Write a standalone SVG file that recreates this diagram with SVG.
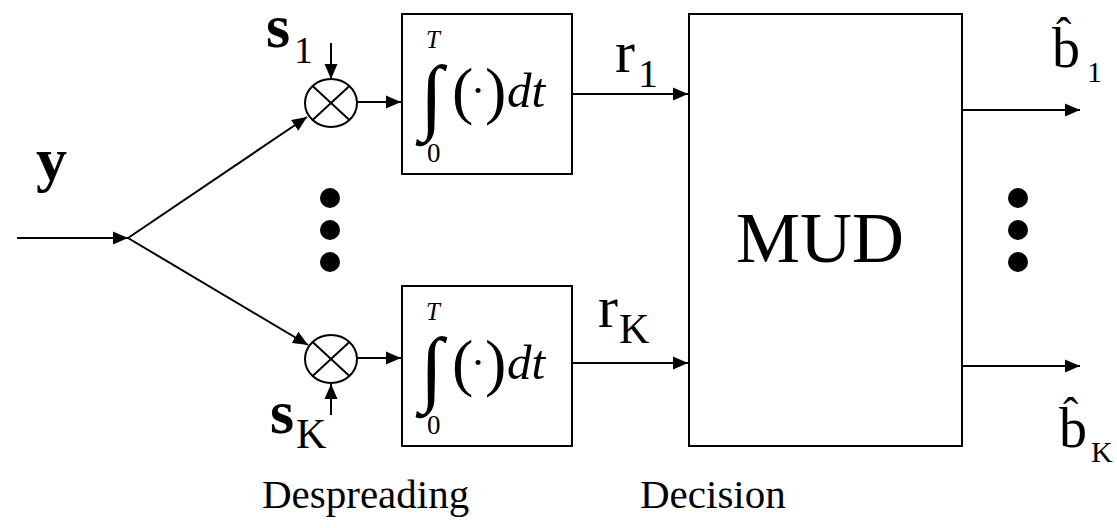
<svg xmlns="http://www.w3.org/2000/svg" width="1117" height="528" viewBox="0 0 1117 528">
<style>
text{font-family:"Liberation Serif","Times New Roman",serif;fill:#000}
.bold{font-weight:bold}
.it{font-style:italic}
.ln{stroke:#000;stroke-width:2;fill:none}
.box{stroke:#000;stroke-width:2;fill:#fff}
</style>
<defs>
<marker id="ah" markerUnits="userSpaceOnUse" markerWidth="16" markerHeight="14" refX="15" refY="7" orient="auto">
<path d="M0,0.5 L15,7 L0,13.5 z" fill="#000"/>
</marker>
</defs>
<g id="connectors">
<line class="ln" x1="17" y1="238" x2="128" y2="238" marker-end="url(#ah)"/>
<line class="ln" x1="128" y1="238" x2="307" y2="117" marker-end="url(#ah)"/>
<line class="ln" x1="128" y1="238" x2="308" y2="345" marker-end="url(#ah)"/>
<line class="ln" x1="331" y1="43" x2="331" y2="79" marker-end="url(#ah)"/>
<line class="ln" x1="331" y1="415" x2="331" y2="384" marker-end="url(#ah)"/>
<line class="ln" x1="357" y1="102" x2="401" y2="102" marker-end="url(#ah)"/>
<line class="ln" x1="357" y1="358" x2="401" y2="358" marker-end="url(#ah)"/>
<line class="ln" x1="572" y1="94" x2="688" y2="94" marker-end="url(#ah)"/>
<line class="ln" x1="572" y1="363" x2="688" y2="363" marker-end="url(#ah)"/>
<line class="ln" x1="962" y1="110" x2="1080" y2="110" marker-end="url(#ah)"/>
<line class="ln" x1="962" y1="366" x2="1080" y2="366" marker-end="url(#ah)"/>
</g>
<g id="input-label"><text class="bold" x="36" y="180" font-size="62">y</text></g>
<g id="mult1">
<ellipse class="ln" cx="331" cy="103" rx="26" ry="24"/>
<path class="ln" d="M312.6,86 L349.4,120 M312.6,120 L349.4,86"/>
<text class="bold" x="266" y="47" font-size="62">s</text><text x="294" y="63" font-size="38">1</text>
</g>
<g id="multK">
<ellipse class="ln" cx="331" cy="359" rx="26" ry="24"/>
<path class="ln" d="M312.6,342 L349.4,376 M312.6,376 L349.4,342"/>
<text class="bold" x="270" y="433" font-size="62">s</text><text x="296" y="448" font-size="42">K</text>
</g>
<g id="int1">
<rect class="box" x="402" y="14" width="170" height="160"/>
<text class="it" x="426" y="48" font-size="25">T</text>
<text x="420" y="124" font-size="84">∫</text>
<text x="452" y="112" font-size="64">(</text><text x="471" y="105" font-size="42">·</text><text x="485" y="112" font-size="64">)</text>
<text class="it" x="507" y="107" font-size="49">dt</text>
<text x="427" y="162" font-size="27">0</text>
</g>
<g id="intK">
<rect class="box" x="402" y="286" width="170" height="160"/>
<text class="it" x="426" y="320" font-size="25">T</text>
<text x="420" y="396" font-size="84">∫</text>
<text x="452" y="384" font-size="64">(</text><text x="471" y="377" font-size="42">·</text><text x="485" y="384" font-size="64">)</text>
<text class="it" x="507" y="379" font-size="49">dt</text>
<text x="427" y="434" font-size="27">0</text>
</g>
<g id="labels-r">
<text x="615" y="72" font-size="60">r</text><text x="638" y="87" font-size="40">1</text>
<text x="598" y="327" font-size="60">r</text><text x="619" y="343" font-size="42">K</text>
</g>
<g id="mud">
<rect class="box" x="689" y="14" width="273" height="432"/>
<text x="820" y="262" font-size="72" text-anchor="middle">MUD</text>
</g>
<g id="dots">
<circle cx="330" cy="198" r="10"/><circle cx="330" cy="230" r="10"/><circle cx="330" cy="262" r="10"/>
<circle cx="1018" cy="198" r="10"/><circle cx="1018" cy="230" r="10"/><circle cx="1018" cy="262" r="10"/>
</g>
<g id="outputs">
<text x="1052" y="67" font-size="56">b</text><text x="1056" y="50" font-size="46">ˆ</text><text x="1087" y="82" font-size="30">1</text>
<text x="1059" y="447" font-size="56">b</text><text x="1063" y="430" font-size="46">ˆ</text><text x="1091" y="462" font-size="30">K</text>
</g>
<g id="captions">
<text x="262" y="508" font-size="41">Despreading</text>
<text x="640" y="508" font-size="41">Decision</text>
</g>
</svg>
